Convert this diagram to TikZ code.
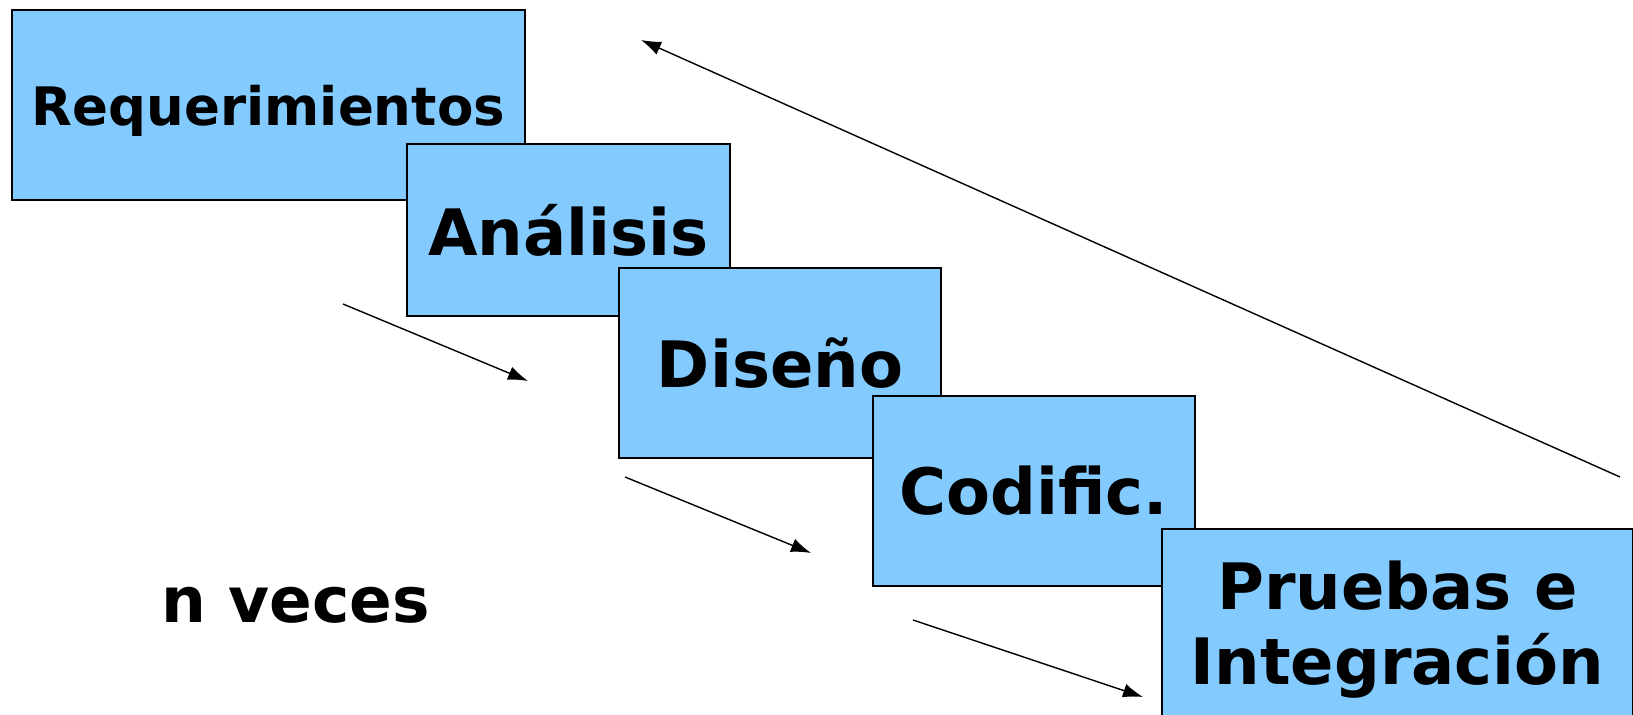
\documentclass[tikz,border=0pt]{standalone}
\usepackage{fontspec}
\setmainfont{DejaVu Sans}
\usepackage{xcolor}
\usepackage{tikz}
\usetikzlibrary{arrows.meta}

\definecolor{faseazul}{RGB}{131,202,255}
\tikzset{
    fase/.style={draw=black, line width=1pt, fill=faseazul, anchor=north west,
        inner sep=0pt, align=center, font=\bfseries\fontsize{32}{37.5}\selectfont},
    flecha/.style={-{Latex[length=10pt,width=7pt]}, line width=0.7pt}
}

\begin{document}
\begin{tikzpicture}[x=0.5pt, y=-0.5pt]
            \useasboundingbox (0,0) rectangle (1633,715);

            % fases de la cascada
            \node[fase, minimum width=256.5pt, minimum height=95pt, text depth=0pt,
                font=\bfseries\fontsize{26.5}{30}\selectfont] (req) at (11,9) {Requerimientos};
            \node[fase, minimum width=161.5pt, minimum height=86pt] (ana) at (406,143) {Análisis};
            \node[fase, minimum width=161pt, minimum height=95pt] (dis) at (618,267) {Diseño};
            \node[fase, minimum width=161pt, minimum height=95pt] (cod) at (872,395) {Codific.};
            \node[fase, minimum width=235.5pt, minimum height=101pt] (pru) at (1161,528) {Pruebas e\\Integración};

            \node[anchor=base, font=\bfseries\fontsize{31.5}{36}\selectfont] (nveces) at (296,623) {n veces};

            % extremos de las flechas
            \coordinate (a1s) at (343,304);
            \coordinate (a1e) at (528,381);
            \coordinate (a2s) at (625,477);
            \coordinate (a2e) at (811,553);
            \coordinate (a3s) at (913,620);
            \coordinate (a3e) at (1143,697);
            \coordinate (rets) at (1620,477);
            \coordinate (rete) at (641,40);

            \draw[flecha] (a1s) -- (a1e); % req-ana
            \draw[flecha] (a2s) -- (a2e); % dis-cod
            \draw[flecha] (a3s) -- (a3e); % cod-pru
            \draw[flecha] (rets) -- (rete); % vuelta
\end{tikzpicture}
\end{document}
